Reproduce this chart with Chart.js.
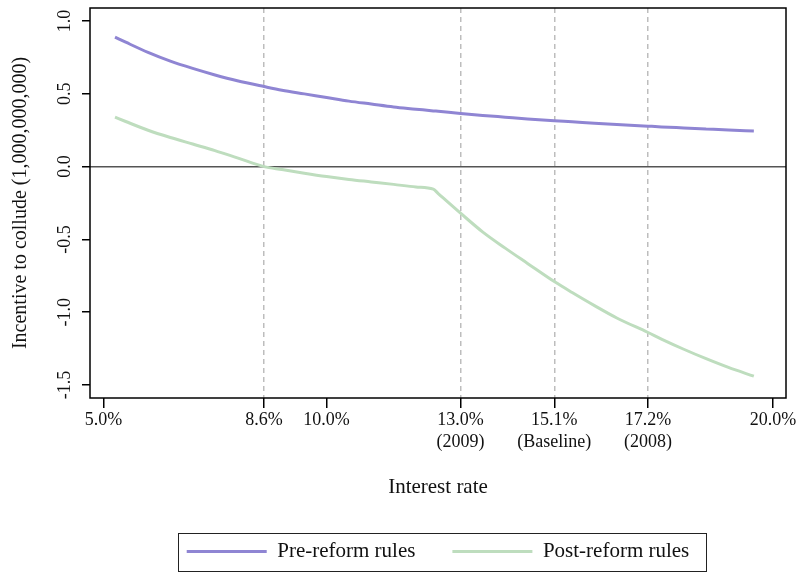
<!DOCTYPE html>
<html>
<head>
<meta charset="utf-8">
<title>Incentive to collude</title>
<script src="https://cdn.jsdelivr.net/npm/chart.js@4.4.0/dist/chart.umd.min.js"></script>
<style>
  html, body { margin: 0; padding: 0; background: #fff; }
  #caja { width: 801px; height: 572px; }
</style>
</head>
<body>
<div id="caja"><canvas id="grafico"></canvas></div>
<script>
const tasas = [5.26, 5.5, 6, 6.5, 7, 7.5, 8, 8.6, 9, 9.5, 10, 10.5, 11, 11.5, 12, 12.39, 12.5,
  13, 13.5, 14, 14.5, 15.1, 15.5, 16, 16.5, 17.2, 17.5, 18, 18.5, 19, 19.57];
const antesReforma = [0.89, 0.855, 0.785, 0.725, 0.675, 0.63, 0.59, 0.55, 0.525, 0.50, 0.475, 0.45,
  0.43, 0.41, 0.395, 0.383, 0.38, 0.365, 0.352, 0.34, 0.328, 0.315, 0.308, 0.298, 0.29, 0.278,
  0.273, 0.266, 0.259, 0.252, 0.245];
const despuesReforma = [0.34, 0.31, 0.25, 0.20, 0.155, 0.11, 0.06, 0.0, -0.02, -0.045, -0.068,
  -0.088, -0.105, -0.122, -0.14, -0.155, -0.185, -0.32, -0.45, -0.56, -0.665, -0.79, -0.865,
  -0.955, -1.04, -1.14, -1.185, -1.255, -1.32, -1.38, -1.44];

// Marcas del eje X y sus etiquetas
const marcasX = [5, 8.6, 10, 13, 15.1, 17.2, 20];
const etiquetasX = [['5.0%'], ['8.6%'], ['10.0%'], ['13.0%', '(2009)'], ['15.1%', '(Baseline)'],
  ['17.2%', '(2008)'], ['20.0%']];
const lineasGuia = [8.6, 13, 15.1, 17.2];
const marcasY = [-1.5, -1, -0.5, 0, 0.5, 1];

const fuente = '"Liberation Serif", "Times New Roman", serif';
const colorAntes = 'rgb(143,133,211)';
const colorDespues = 'rgb(190,221,190)';

// Marco del gráfico, etiquetas verticales del eje Y y recuadro de la leyenda
const adornos = {
  id: 'adornos',
  afterLayout(chart) {
    // la leyenda se centra bajo el área de trazado
    chart.legend.left = chart.chartArea.left;
    chart.legend.right = chart.chartArea.right;
  },
  afterDraw(chart) {
    const { ctx, chartArea: a, scales: { y } } = chart;
    ctx.save();
    ctx.strokeStyle = '#000';
    ctx.lineWidth = 1.5;
    ctx.strokeRect(a.left, a.top, a.right - a.left, a.bottom - a.top);

    ctx.fillStyle = '#111';
    ctx.font = '18px ' + fuente;
    ctx.textAlign = 'center';
    ctx.textBaseline = 'middle';
    y.ticks.forEach(t => {
      ctx.save();
      ctx.translate(a.left - 25, y.getPixelForValue(t.value));
      ctx.rotate(-Math.PI / 2);
      ctx.fillText(t.value.toFixed(1), 0, 0);
      ctx.restore();
    });

    const cajas = chart.legend.legendHitBoxes;
    if (cajas.length) {
      const ultima = cajas[cajas.length - 1];
      const izq = Math.round(cajas[0].left - 9);
      const der = Math.round(ultima.left + ultima.width + 17);
      const arriba = Math.round(cajas[0].top - 8);
      ctx.lineWidth = 1;
      ctx.strokeStyle = '#222';
      ctx.strokeRect(izq + 0.5, arriba + 0.5, der - izq, 571 - arriba);
    }
    ctx.restore();
  }
};

new Chart(document.getElementById('grafico'), {
  type: 'line',
  data: {
    datasets: [
      {
        label: 'Pre-reform rules',
        data: tasas.map((t, i) => ({ x: t, y: antesReforma[i] })),
        borderColor: colorAntes,
        backgroundColor: colorAntes,
        borderWidth: 3,
        pointRadius: 0,
        cubicInterpolationMode: 'monotone'
      },
      {
        label: 'Post-reform rules',
        data: tasas.map((t, i) => ({ x: t, y: despuesReforma[i] })),
        borderColor: colorDespues,
        backgroundColor: colorDespues,
        borderWidth: 3,
        pointRadius: 0,
        cubicInterpolationMode: 'monotone'
      }
    ]
  },
  options: {
    responsive: true,
    maintainAspectRatio: false,
    animation: false,
    devicePixelRatio: 1,
    layout: { padding: { top: 8, right: 15, left: 0, bottom: 0 } },
    plugins: {
      tooltip: { enabled: false },
      legend: {
        position: 'bottom',
        labels: {
          color: '#111',
          font: { family: fuente, size: 21 },
          usePointStyle: true,
          pointStyle: 'line',
          pointStyleWidth: 80,
          padding: 37
        }
      }
    },
    scales: {
      x: {
        type: 'linear',
        min: 4.70,
        max: 20.29,
        afterBuildTicks: s => { s.ticks = marcasX.map(v => ({ value: v })); },
        afterFit: s => { s.height = 106; },
        ticks: {
          color: '#111',
          font: { family: fuente, size: 18, lineHeight: 1.25 },
          padding: 1,
          maxRotation: 0,
          autoSkip: false,
          callback: v => etiquetasX[marcasX.indexOf(v)]
        },
        grid: {
          color: c => (c.tick && lineasGuia.includes(c.tick.value)) ? '#bdbdbd' : 'rgba(0,0,0,0)',
          lineWidth: 1.5,
          tickColor: '#000',
          tickWidth: 1.5,
          tickLength: 10
        },
        border: { display: false, dash: [5, 4] },
        title: {
          display: true,
          text: 'Interest rate',
          color: '#111',
          font: { family: fuente, size: 21 },
          padding: { top: 0, bottom: 4 }
        }
      },
      y: {
        min: -1.59,
        max: 1.09,
        afterBuildTicks: s => { s.ticks = marcasY.map(v => ({ value: v })); },
        afterFit: s => { s.width = 90; },
        ticks: { display: false },
        grid: {
          color: c => (c.tick && c.tick.value === 0) ? '#555' : 'rgba(0,0,0,0)',
          lineWidth: 1.5,
          tickColor: '#000',
          tickWidth: 1.5,
          tickLength: 8
        },
        border: { display: false },
        title: {
          display: true,
          text: 'Incentive to collude (1,000,000,000)',
          color: '#111',
          font: { family: fuente, size: 20 },
          padding: { top: 9, bottom: 0 }
        }
      }
    }
  },
  plugins: [adornos]
});
</script>
</body>
</html>
